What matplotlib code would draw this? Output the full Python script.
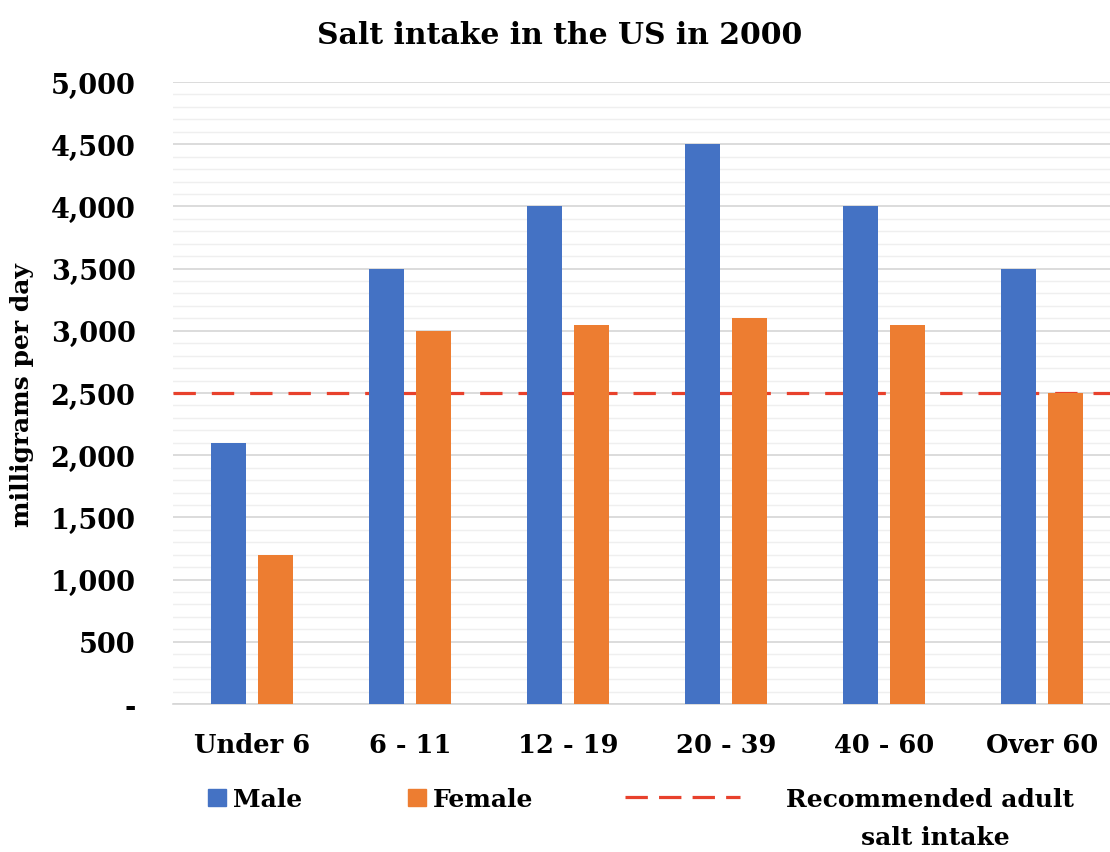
import matplotlib.pyplot as plt
import numpy as np
from matplotlib.ticker import MultipleLocator, FuncFormatter
from matplotlib.lines import Line2D
from matplotlib.patches import Patch

# data
age_groups = ['Under 6', '6 - 11', '12 - 19', '20 - 39', '40 - 60', 'Over 60']
male = [2100, 3500, 4000, 4500, 4000, 3500]
female = [1200, 3000, 3050, 3100, 3050, 2500]
recommended = 2500

blue = '#4472C4'
orange = '#ED7D31'
red = '#E8412C'

plt.rcParams['font.family'] = ['DejaVu Serif']
plt.rcParams['font.weight'] = 'bold'

fig = plt.figure(figsize=(11.1, 8.53), dpi=100)
# axes spans slightly past the right edge, like the cropped original
ax = fig.add_axes([173 / 1110, 1 - 705 / 853, 948 / 1110, 622 / 853])

x = np.arange(len(age_groups))
off = 0.147
w = 0.22
ax.bar(x - off, male, w, color=blue, zorder=3, label='Male')
ax.bar(x + off, female, w, color=orange, zorder=3, label='Female')
ax.axhline(recommended, color=red, lw=2.3, dashes=(7, 5), zorder=2)

ax.set_xlim(-0.5, len(age_groups) - 0.5)
ax.set_ylim(0, 5000)
ax.yaxis.set_major_locator(MultipleLocator(500))
ax.yaxis.set_minor_locator(MultipleLocator(100))
ax.yaxis.set_major_formatter(FuncFormatter(lambda v, p: '-' if v == 0 else f'{int(v):,}'))
ax.grid(axis='y', which='major', color='#d6d6d6', lw=1.2, zorder=0)
ax.grid(axis='y', which='minor', color='#efefef', lw=1.0, zorder=0)

for s in ['top', 'right', 'left']:
    ax.spines[s].set_visible(False)
ax.spines['bottom'].set_color('#d6d6d6')
ax.spines['bottom'].set_linewidth(1.2)

ax.set_xticks(x)
ax.set_xticklabels(age_groups, fontsize=18.5)
ax.tick_params(axis='both', which='both', length=0)
ax.tick_params(axis='y', labelsize=19.5, pad=27)
ax.tick_params(axis='x', pad=20)

fig.text(22 / 1110, 1 - 395 / 853, 'milligrams per day', rotation=90,
         ha='center', va='center', fontsize=18, fontweight='bold')
fig.text(560 / 1110, 1 - 35 / 853, 'Salt intake in the US in 2000',
         ha='center', va='center', fontsize=21.5, fontweight='bold')

# legend, three separate boxes to match the spacing of the original
leg_kw = dict(frameon=False, fontsize=18, borderpad=0, borderaxespad=0,
              handletextpad=0.3, loc='center left')
fig.legend([Patch(color=blue)], ['Male'], handlelength=0.7, handleheight=0.7,
           bbox_to_anchor=(208 / 1110, 1 - 800 / 853), **leg_kw)
fig.legend([Patch(color=orange)], ['Female'], handlelength=0.7, handleheight=0.7,
           bbox_to_anchor=(408 / 1110, 1 - 800 / 853), **leg_kw)
fig.legend([Line2D([0], [0], color=red, lw=2.3, dashes=(7, 3.5))],
           ['Recommended adult'], handlelength=4.6,
           bbox_to_anchor=(625 / 1110, 1 - 800 / 853),
           **{**leg_kw, 'handletextpad': 1.85})
# second line of the wrapped legend label, centred under the first
fig.text(935 / 1110, 1 - 838 / 853, 'salt intake', ha='center', va='center',
         fontsize=18, fontweight='bold')

fig.savefig('out.png', dpi=100)
